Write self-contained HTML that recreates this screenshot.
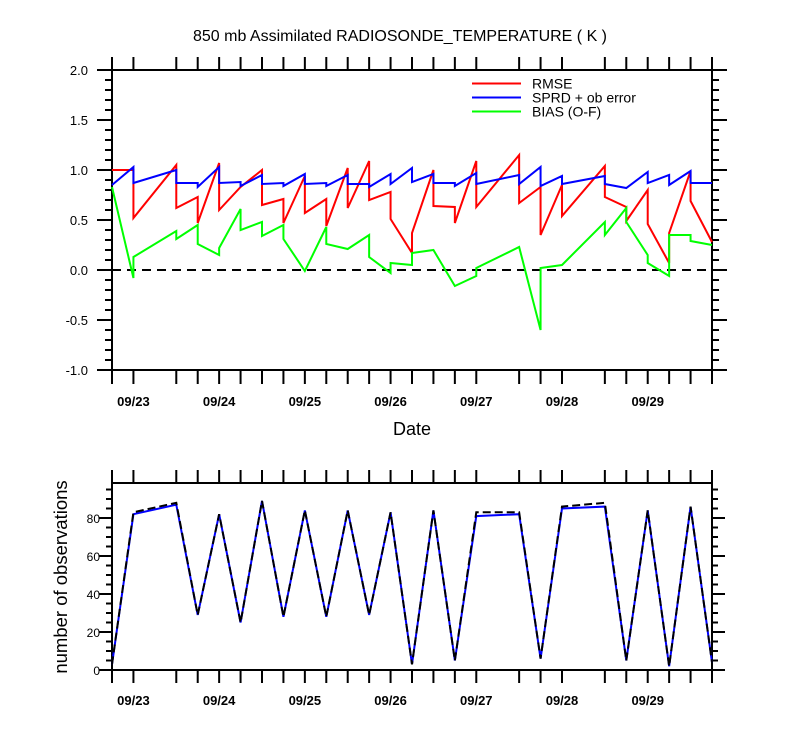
<!DOCTYPE html>
<html><head><meta charset="utf-8"><style>
body{margin:0;background:#fff}
svg text{font-family:"Liberation Sans",Arial,sans-serif;fill:#000}
</style></head><body>
<svg id="c" width="800" height="750" xmlns="http://www.w3.org/2000/svg"></svg>
<script>
// time indices (6-hourly from 09/22 18Z) with prior/posterior pairs
const rmse=[[0,1.0],[1,1.0],[1,0.52],[3,1.05],[3,0.62],[4,0.73],[4,0.47],[5,1.07],[5,0.60],[6,0.83],[7,1.0],[7,0.65],[8,0.71],[8,0.47],[9,0.94],[9,0.57],[10,0.71],[10,0.44],[11,1.02],[11,0.62],[12,1.09],[12,0.70],[13,0.78],[13,0.51],[14,0.17],[14,0.37],[15,1.0],[15,0.64],[16,0.63],[16,0.47],[17,1.09],[17,0.63],[19,1.15],[19,0.67],[20,0.83],[20,0.35],[21,0.85],[21,0.54],[23,1.04],[23,0.73],[24,0.63],[24,0.49],[25,0.80],[25,0.46],[26,0.07],[26,0.37],[27,0.99],[27,0.69],[28,0.28]];
const sprd=[[0,0.85],[1,1.03],[1,0.87],[3,1.0],[3,0.87],[4,0.87],[4,0.83],[5,1.03],[5,0.87],[6,0.88],[6,0.84],[7,0.95],[7,0.86],[8,0.87],[8,0.84],[9,0.96],[9,0.86],[10,0.87],[10,0.84],[11,0.95],[11,0.86],[12,0.86],[12,0.83],[13,0.96],[13,0.86],[14,1.02],[14,0.88],[15,0.96],[15,0.87],[16,0.87],[16,0.84],[17,0.97],[17,0.86],[19,0.95],[19,0.86],[20,1.03],[20,0.84],[21,0.94],[21,0.86],[23,0.94],[23,0.86],[24,0.82],[25,0.98],[25,0.87],[26,0.95],[26,0.85],[27,0.99],[27,0.87],[28,0.87]];
const bias=[[0,0.83],[1,-0.08],[1,0.13],[3,0.39],[3,0.31],[4,0.45],[4,0.26],[5,0.15],[5,0.22],[6,0.61],[6,0.40],[7,0.48],[7,0.34],[8,0.45],[8,0.31],[9,-0.01],[10,0.43],[10,0.26],[11,0.21],[12,0.35],[12,0.13],[13,-0.03],[13,0.07],[14,0.05],[14,0.17],[15,0.20],[16,-0.16],[17,-0.06],[17,0.02],[19,0.23],[20,-0.60],[20,0.02],[21,0.05],[23,0.48],[23,0.35],[24,0.62],[24,0.48],[25,0.15],[25,0.07],[26,-0.06],[26,0.35],[27,0.35],[27,0.29],[28,0.25]];
const obsTimes=[0,1,3,4,5,6,7,8,9,10,11,12,13,14,15,16,17,19,20,21,23,24,25,26,27,28];
const obsUsed=[3,82,87,29,82,25,89,28,84,28,84,29,83,3,84,5,81,82,6,85,86,5,84,2,86,4];
const obsPossible=[3,83,88,29,82,25,89,28,84,28,84,29,83,3,84,5,83,83,6,86,88,5,84,2,86,4];
const dayLabels=["09/23","09/24","09/25","09/26","09/27","09/28","09/29"];
const yTicksTop=["-1.0","-0.5","0.0","0.5","1.0","1.5","2.0"];
const yTicksBot=["0","20","40","60","80"];

const svg=document.getElementById('c');const NS="http://www.w3.org/2000/svg";
function el(t,a,txt){const e=document.createElementNS(NS,t);for(const k in a)e.setAttribute(k,a[k]);if(txt!==undefined)e.textContent=txt;svg.appendChild(e);return e;}
const X0=112,X1=712,step=(X1-X0)/28;
const xs=t=>X0+t*step;
const yT=v=>270-v*100;
const yB=v=>670-v*1.9;
function line(x1,y1,x2,y2,name){const e=el('line',{x1,y1,x2,y2,stroke:'#000','stroke-width':2});return e;}
function txt(x,y,s,size,anchor,name,extra){const e=el('text',Object.assign({x,y,'font-size':size,'text-anchor':anchor},extra||{}),s);return e;}
function poly(pts,color,name,dash){const e=el('polyline',{points:pts.map(p=>p.join(',')).join(' '),fill:'none',stroke:color,'stroke-width':2,'stroke-linejoin':'miter'});if(dash)e.setAttribute('stroke-dasharray',dash);return e;}

txt(400,41,"850 mb Assimilated RADIOSONDE_TEMPERATURE ( K )",16,'middle','chart-title');
const topFrame=el('rect',{x:X0,y:70,width:600,height:300,fill:'none',stroke:'#000','stroke-width':2});


for(let i=0;i<=30;i++){const v=-1+i*0.1;const y=yT(v);const maj=i%5===0;const L=maj?15:7;
 line(X0-L,y,X0,y,'y-tick');line(X1,y,X1+L,y,'y-tick');}
yTicksTop.forEach((s,i)=>txt(88,yT(-1+i*0.5)+5,s,13,'end','y-tick-label'));
obsTimes.forEach(t=>{line(xs(t),370,xs(t),384,'x-tick');line(xs(t),57,xs(t),70,'x-tick');});
dayLabels.forEach((s,i)=>txt(xs(1+4*i),406,s,13,'middle','x-tick-label',{'font-weight':'bold'}));
txt(412,435,"Date",18,'middle','x-axis-title');
const zl=el('line',{x1:X0,y1:yT(0),x2:X1,y2:yT(0),stroke:'#000','stroke-width':2,'stroke-dasharray':'9,6'});


poly(rmse.map(p=>[xs(p[0]),yT(p[1])]),'#ff0000','rmse-line');
poly(sprd.map(p=>[xs(p[0]),yT(p[1])]),'#0000ff','sprd-line');
poly(bias.map(p=>[xs(p[0]),yT(p[1])]),'#00ff00','bias-line');
[['RMSE','#ff0000'],['SPRD + ob error','#0000ff'],['BIAS (O-F)','#00ff00']].forEach((d,i)=>{
 const y=83.5+i*14;const l=el('line',{x1:472,y1:y,x2:521,y2:y,stroke:d[1],'stroke-width':2});
 
 
 txt(532,y+5,d[0],14,'start','legend-entry');});
const botFrame=el('rect',{x:X0,y:483,width:600,height:187,fill:'none',stroke:'#000','stroke-width':2});


for(let v=0;v<=95;v+=5){const y=yB(v);const maj=v%20===0;const L=maj?13:6;line(X0-L,y,X0,y,'y-tick');line(X1,y,X1+L,y,'y-tick');}
yTicksBot.forEach((s,i)=>txt(100,yB(i*20)+5,s,12,'end','y-tick-label'));
obsTimes.forEach(t=>{line(xs(t),670,xs(t),683,'x-tick');line(xs(t),470,xs(t),483,'x-tick');});
dayLabels.forEach((s,i)=>txt(xs(1+4*i),705,s,13,'middle','x-tick-label',{'font-weight':'bold'}));
txt(67,577,"number of observations",18.5,'middle','y-axis-title',{transform:'rotate(-90 67 577)'});
poly(obsTimes.map((t,i)=>[xs(t),yB(obsUsed[i])]),'#0000ff','obs-used-line');
poly(obsTimes.map((t,i)=>[xs(t),yB(obsPossible[i])]),'#000','obs-possible-line','8,4');
</script>
</body></html>
